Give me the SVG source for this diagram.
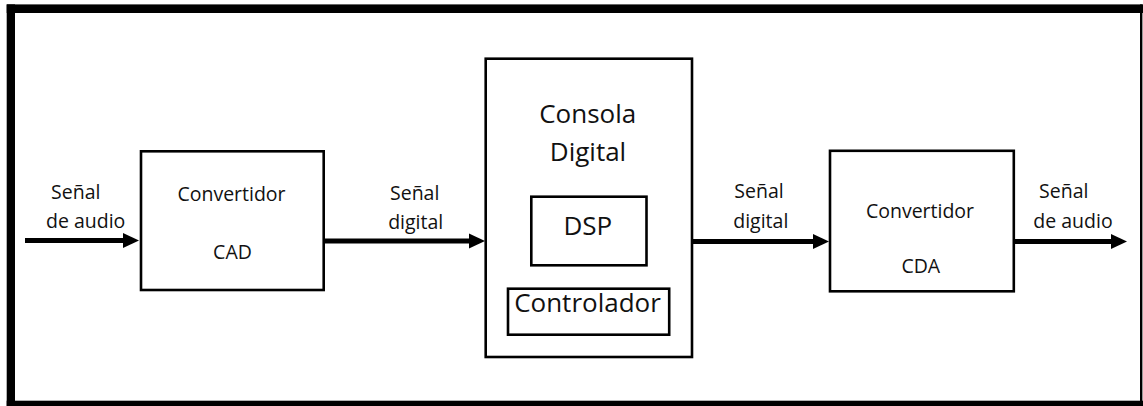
<svg xmlns="http://www.w3.org/2000/svg" width="1143" height="406" viewBox="0 0 1143 406">
  <style>
    .box { fill: #ffffff; stroke: #000000; stroke-width: 2.6; }
    .wire { stroke: #000000; stroke-width: 4.8; fill: none; }
    .head { fill: #000000; }
    text { font-family: "Open Sans", "Liberation Sans", sans-serif; fill: #111111; text-anchor: middle; }
    .lbl { font-size: 19.5px; }
    .big { font-size: 26px; }
  </style>
  <defs>
    <!-- arrowhead, tip at origin, pointing right -->
    <polygon id="tip" class="head" points="0,0 -16,-7.5 -16,7.5"/>
  </defs>

  <rect x="0" y="0" width="1143" height="406" fill="#ffffff"/>

  <!-- outer frame -->
  <g id="frame" fill="#000000">
    <rect x="6.7" y="4.4" width="1136.3" height="8.6"/>
    <rect x="6.7" y="4.4" width="8.3" height="401.6"/>
    <rect x="6.7" y="400.7" width="1136.3" height="5.3"/>
    <rect x="1140" y="4.4" width="2.4" height="401.6"/>
  </g>

  <!-- connectors -->
  <g id="connectors">
    <line class="wire" x1="25" y1="240.5" x2="126" y2="240.5"/>
    <use href="#tip" x="139" y="240.5"/>
    <line class="wire" x1="324" y1="241" x2="472" y2="241"/>
    <use href="#tip" x="485" y="241"/>
    <line class="wire" x1="692" y1="241.5" x2="816" y2="241.5"/>
    <use href="#tip" x="829" y="241.5"/>
    <line class="wire" x1="1014" y1="241.5" x2="1114" y2="241.5"/>
    <use href="#tip" x="1127" y="241.5"/>
  </g>

  <!-- signal labels -->
  <g id="labels">
    <text class="lbl" x="75.8" y="199.3">Señal</text>
    <text class="lbl" x="85.7" y="228.3">de audio</text>
    <text class="lbl" x="414.7" y="200">Señal</text>
    <text class="lbl" x="415.7" y="229.3">digital</text>
    <text class="lbl" x="759" y="197.7">Señal</text>
    <text class="lbl" x="760.8" y="228.3">digital</text>
    <text class="lbl" x="1063.8" y="197.7">Señal</text>
    <text class="lbl" x="1073" y="228.3">de audio</text>
  </g>

  <g id="cad">
    <rect class="box" x="141" y="151.3" width="182.7" height="138.7"/>
    <text class="lbl" x="231.5" y="200.7">Convertidor</text>
    <text class="lbl" x="232.5" y="259.3">CAD</text>
  </g>

  <g id="consola">
    <rect class="box" x="485.7" y="58.7" width="206.3" height="298.3"/>
    <text class="big" x="587.7" y="123.3">Consola</text>
    <text class="big" x="588" y="160.7">Digital</text>
  </g>

  <g id="dsp">
    <rect class="box" x="531.3" y="196.7" width="115.2" height="68.6"/>
    <text class="big" x="587.8" y="235">DSP</text>
  </g>

  <g id="controlador">
    <rect class="box" x="508" y="288.7" width="161.2" height="46"/>
    <text class="big" x="587.5" y="311.7">Controlador</text>
  </g>

  <g id="cda">
    <rect class="box" x="830" y="150.8" width="183.8" height="140.5"/>
    <text class="lbl" x="920" y="218.3">Convertidor</text>
    <text class="lbl" x="920.8" y="273.3">CDA</text>
  </g>
</svg>
